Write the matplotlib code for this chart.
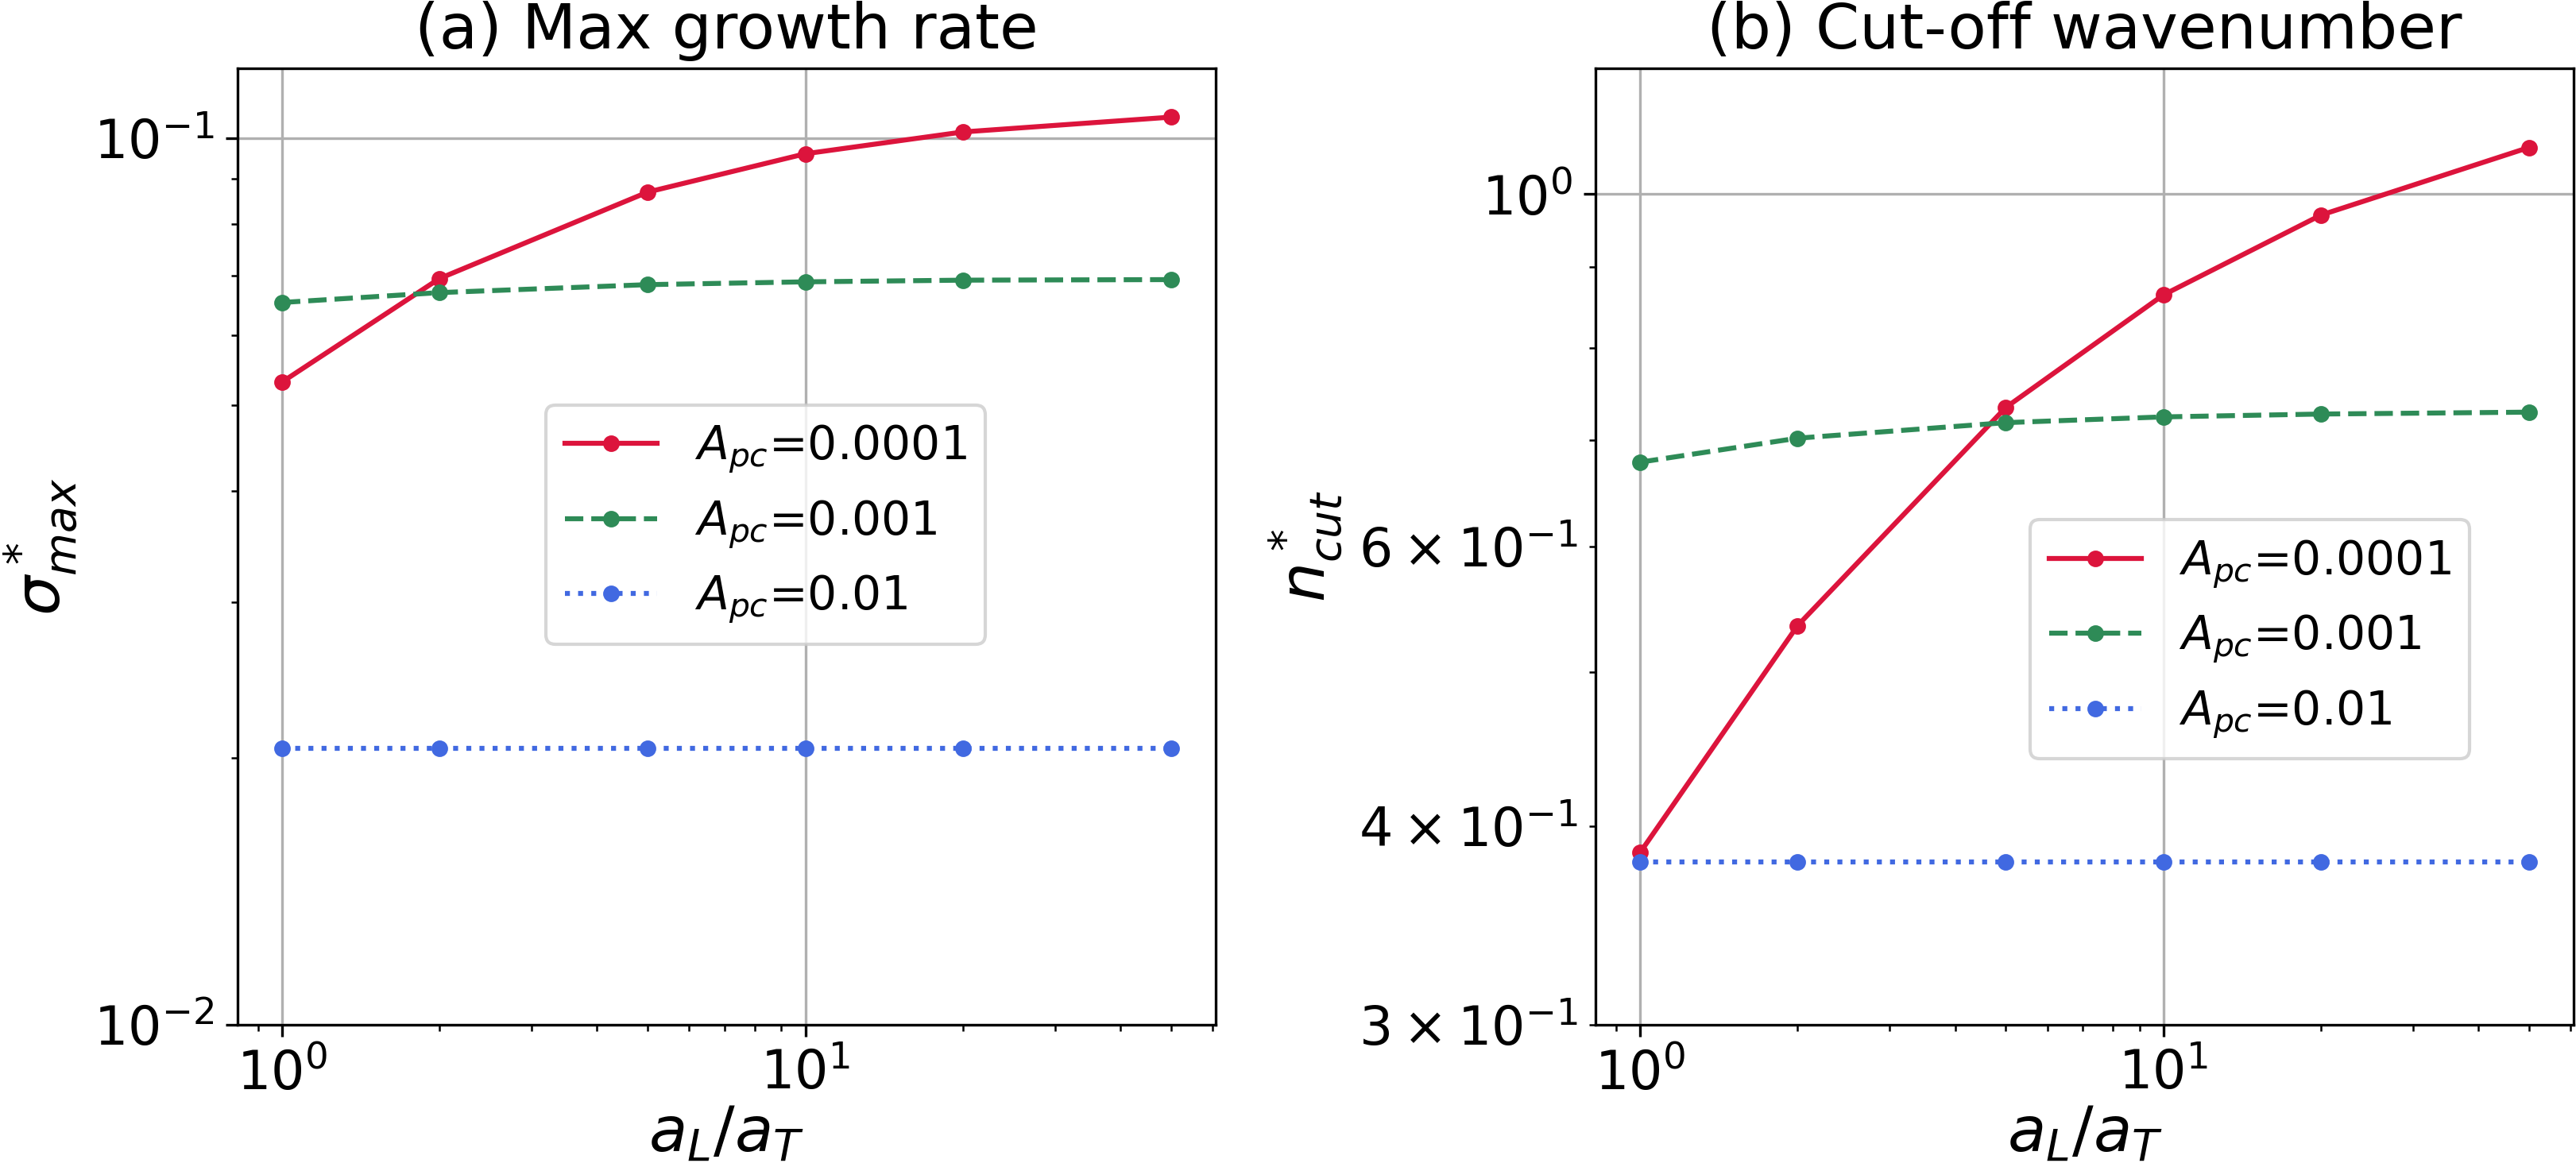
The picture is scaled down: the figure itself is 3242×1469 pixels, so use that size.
import numpy as np
import matplotlib
matplotlib.use('Agg')
import matplotlib.pyplot as plt

# data
ratio = [1, 2, 5, 10, 20, 50]
labels = [r'$A_{pc}$=0.0001', r'$A_{pc}$=0.001', r'$A_{pc}$=0.01']
sigma_max = [
    [0.0531, 0.0695, 0.0870, 0.0961, 0.1017, 0.1057],
    [0.0653, 0.0670, 0.0684, 0.0689, 0.0692, 0.0693],
    [0.0205, 0.0205, 0.0205, 0.0205, 0.0205, 0.0205],
]
n_cut = [
    [0.385, 0.535, 0.734, 0.864, 0.970, 1.070],
    [0.678, 0.702, 0.718, 0.724, 0.727, 0.729],
    [0.380, 0.380, 0.380, 0.380, 0.380, 0.380],
]
colors = ['crimson', 'seagreen', 'royalblue']
styles = ['-', '--', ':']

fig = plt.figure(figsize=(3242/300, 1469/300), dpi=300)
ax1 = fig.add_axes([0.0922, 0.1219, 0.3797, 0.8196])
ax2 = fig.add_axes([0.6194, 0.1219, 0.3797, 0.8196])

for i in range(3):
    ax1.plot(ratio, sigma_max[i], color=colors[i], ls=styles[i], marker='o',
             ms=4, lw=1.5, label=labels[i])
    ax2.plot(ratio, n_cut[i], color=colors[i], ls=styles[i], marker='o',
             ms=4, lw=1.5, label=labels[i])

ax1.set_xscale('log')
ax1.set_yscale('log')
ax1.set_ylim(0.01, 0.12)
ax1.set_title('(a) Max growth rate', fontsize=19)
ax1.set_xlabel(r'$a_L/a_T$', fontsize=19, labelpad=1)
ax1.set_ylabel(r'$\sigma^*_{max}$', fontsize=19)
ax1.grid(True)
ax1.tick_params(labelsize=16)
ax1.legend(loc='center', bbox_to_anchor=(0.54, 0.523), fontsize=14)

ax2.set_xscale('log')
ax2.set_yscale('log')
ax2.set_ylim(0.3, 1.2)
ax2.set_title('(b) Cut-off wavenumber', fontsize=19)
ax2.set_xlabel(r'$a_L/a_T$', fontsize=19, labelpad=1)
ax2.set_ylabel(r'$n^*_{cut}$', fontsize=19)
ax2.grid(True)
ax2.tick_params(which='both', labelsize=16)
ax2.legend(loc='center', bbox_to_anchor=(0.669, 0.403), fontsize=14)

fig.savefig('out.png', dpi=300)
